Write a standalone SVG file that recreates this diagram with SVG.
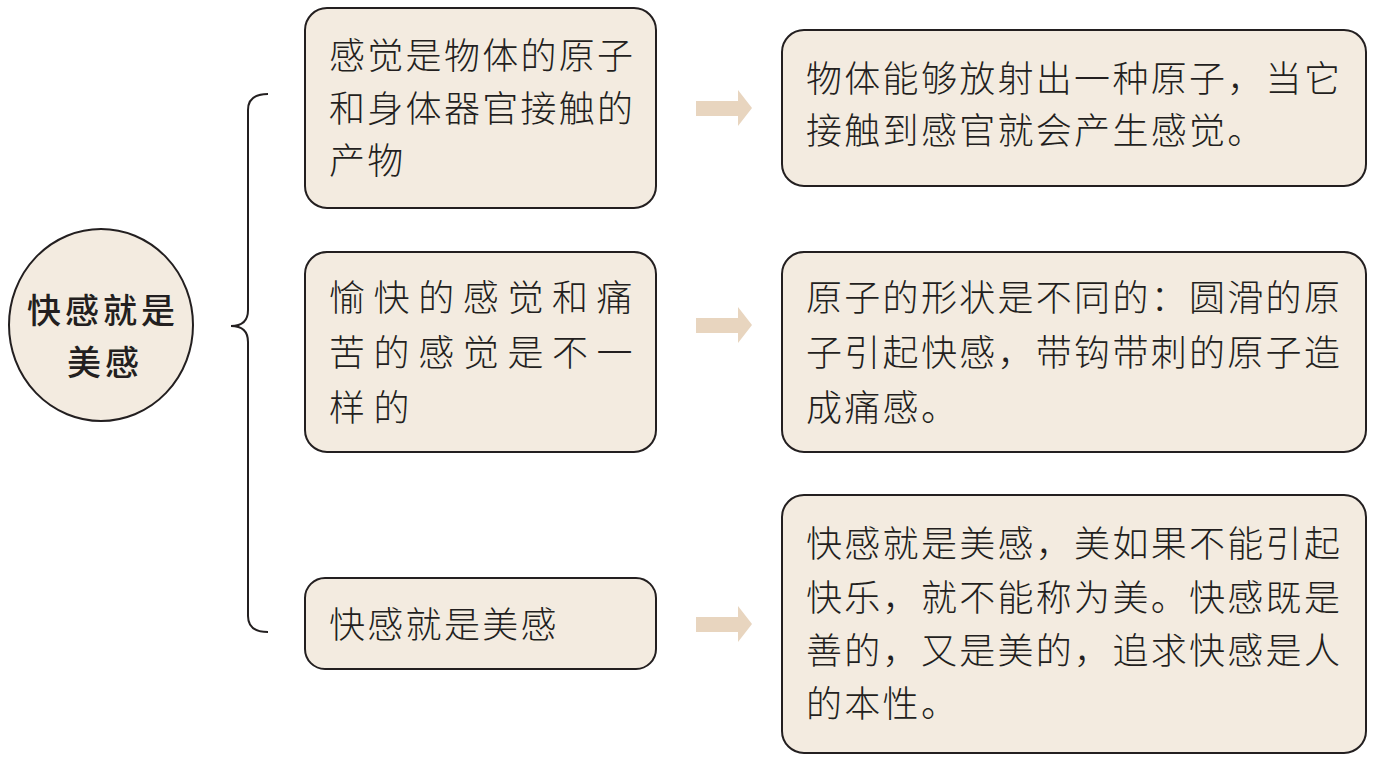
<svg xmlns="http://www.w3.org/2000/svg" width="1378" height="761" viewBox="0 0 1378 761">
<style>
.box{fill:#f3ebe0;stroke:#231f20;stroke-width:2}
.t{font-family:"Noto Sans CJK SC","Noto Sans",sans-serif;font-size:36px;font-weight:300;fill:#231f20;letter-spacing:2.3px}
.w{letter-spacing:8.6px}
.c{font-family:"Noto Sans CJK SC","Noto Sans",sans-serif;font-size:34px;font-weight:500;fill:#231f20;letter-spacing:4px}
.arr{fill:#e8d5bf}
.br{fill:none;stroke:#231f20;stroke-width:2}
</style>
<rect width="1378" height="761" fill="#ffffff"/>
<g id="connectors">
<path class="br" d="M268,94 Q248,94 248,110 L248,310 Q248,326 231,326 Q248,326 248,342 L248,616 Q248,632 268,632"/>
<path class="arr" d="M696,101 L738,101 L738,90 L752,108 L738,126 L738,116 L696,116 Z"/>
<path class="arr" d="M696,318 L738,318 L738,307 L752,325 L738,343 L738,333 L696,333 Z"/>
<path class="arr" d="M696,617 L738,617 L738,606 L752,624 L738,642 L738,632 L696,632 Z"/>
</g>
<g id="root">
<ellipse class="box" cx="101" cy="325" rx="92" ry="96"/>
<text class="c" x="27" y="323">快感就是</text>
<text class="c" x="67" y="375">美感</text>
</g>
<g id="n1">
<rect class="box" x="305" y="8" width="351" height="200" rx="22"/>
<text class="t" x="329" y="69">感觉是物体的原子</text>
<text class="t" x="329" y="122">和身体器官接触的</text>
<text class="t" x="329" y="174">产物</text>
</g>
<g id="n2">
<rect class="box" x="305" y="252" width="351" height="200" rx="22"/>
<text class="t w" x="329" y="311">愉快的感觉和痛</text>
<text class="t w" x="329" y="366">苦的感觉是不一</text>
<text class="t w" x="329" y="421">样的</text>
</g>
<g id="n3">
<rect class="box" x="305" y="578" width="351" height="91" rx="20"/>
<text class="t" x="329" y="638">快感就是美感</text>
</g>
<g id="r1">
<rect class="box" x="782" y="30" width="584" height="156" rx="22"/>
<text class="t" x="806" y="92">物体能够放射出一种原子，当它</text>
<text class="t" x="806" y="144">接触到感官就会产生感觉。</text>
</g>
<g id="r2">
<rect class="box" x="782" y="252" width="584" height="200" rx="22"/>
<text class="t" x="806" y="311">原子的形状是不同的：圆滑的原</text>
<text class="t" x="806" y="366">子引起快感，带钩带刺的原子造</text>
<text class="t" x="806" y="421">成痛感。</text>
</g>
<g id="r3">
<rect class="box" x="782" y="495" width="584" height="258" rx="22"/>
<text class="t" x="806" y="557">快感就是美感，美如果不能引起</text>
<text class="t" x="806" y="611">快乐，就不能称为美。快感既是</text>
<text class="t" x="806" y="664">善的，又是美的，追求快感是人</text>
<text class="t" x="806" y="717">的本性。</text>
</g>
</svg>
